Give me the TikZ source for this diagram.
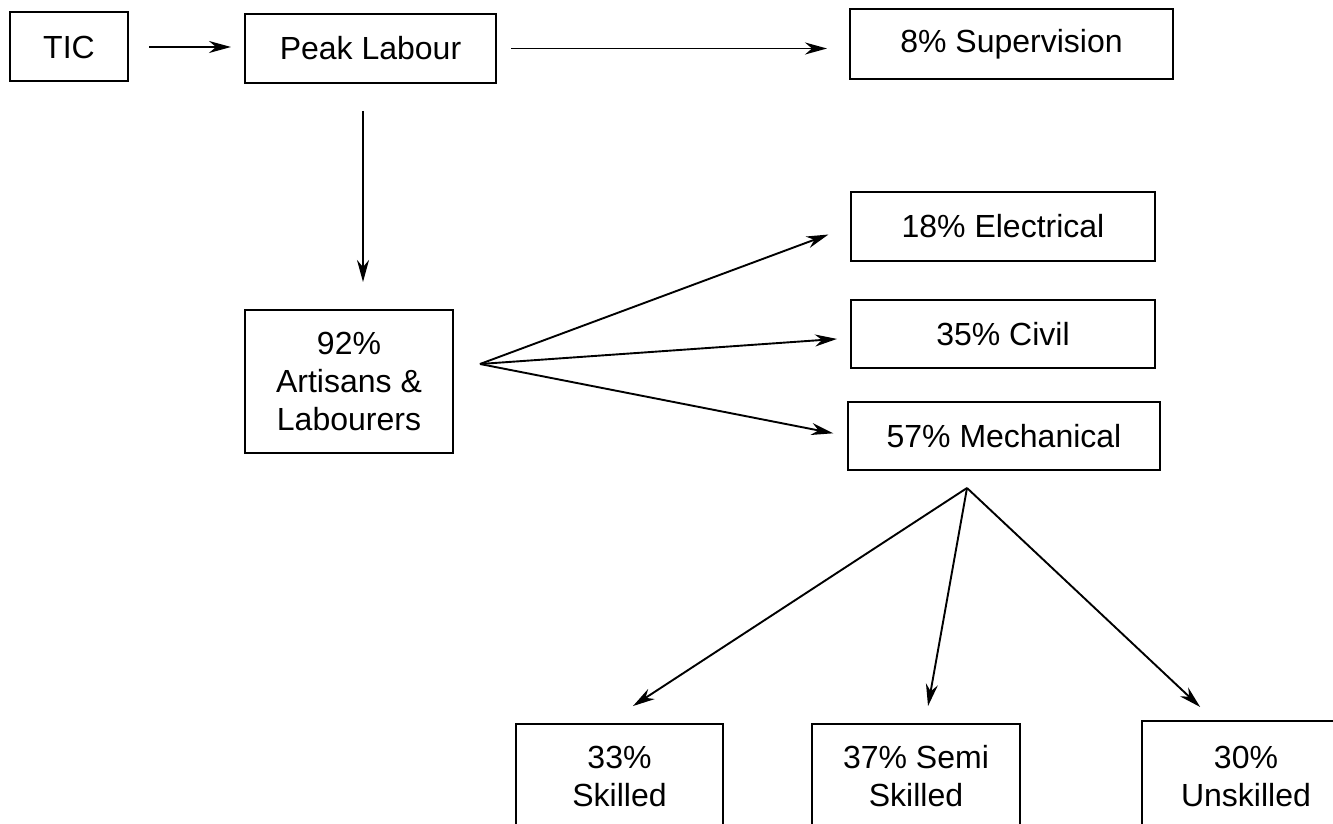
\documentclass[tikz,border=0pt]{standalone}
\usepackage{fontspec}
\setmainfont{Liberation Sans}
\usetikzlibrary{arrows.meta}
\begin{document}
\begin{tikzpicture}[x=0.5pt, y=-0.5pt,
	box/.style={draw, line width=1pt, inner sep=0pt, align=center, font=\fontsize{16}{19}\selectfont},
	arr/.style={-{Stealth[length=11pt, width=6pt, inset=3.5pt]}, line width=0.95pt}]
	  \useasboundingbox (0,0) rectangle (1333,824);
	  \clip (0,0) rectangle (1333,824);
	  % top row
	  \node[box, minimum width=59pt, minimum height=34.5pt] (tic) at (69,47) {TIC};
	  \node[box, minimum width=125.5pt, minimum height=34.5pt] (peak) at (370.5,48.5) {Peak Labour};
	  \node[box, minimum width=161.5pt, minimum height=35pt] (super) at (1011.5,44) {8\% Supervision};
	  % trades
	  \node[box, minimum width=104pt, minimum height=71.5pt] (artisans) at (349,381.5) {92\%\\Artisans \&\\Labourers};
	  \node[box, minimum width=152pt, minimum height=34.5pt] (elec) at (1003,226.5) {18\% Electrical};
	  \node[box, minimum width=152pt, minimum height=34pt] (civil) at (1003,334) {35\% Civil};
	  \node[box, minimum width=156pt, minimum height=34pt] (mech) at (1004,436) {57\% Mechanical};
	  % skill levels
	  \node[box, minimum width=103.5pt, minimum height=52pt] (skilled) at (619.5,776) {33\%\\Skilled};
	  \node[box, minimum width=104pt, minimum height=52pt] (semi) at (916,776) {37\% Semi\\Skilled};
	  \node[box, minimum width=104pt, minimum height=55pt] (unskilled) at (1246,776) {30\%\\Unskilled};
	  \coordinate (vx) at (363,0);
	  \coordinate (artfan) at (480,364);
	  \coordinate (mechfan) at (967,488);
	  \draw[arr, shorten <=10pt, shorten >=6.5pt] (tic.east) -- (tic.east -| peak.west);
	  \draw[arr, shorten <=7pt, shorten >=11pt] (peak.east) -- (peak.east -| super.west);
	  \draw[arr, shorten <=13.5pt, shorten >=13.5pt] (peak.south -| vx) -- (artisans.north -| vx);
	  \draw[arr, shorten >=11.5pt] (artfan) -- (elec.west);
	  \draw[arr, shorten >=6.5pt] (artfan) -- ([yshift=-2pt]civil.west);
	  \draw[arr, shorten >=7pt] (artfan) -- (mech.west);
	  \draw[arr, shorten >=15.5pt] (mechfan) -- ([xshift=-6.25pt]skilled.north);
	  \draw[arr, shorten >=8.6pt] (mechfan) -- ([xshift=4.5pt]semi.north);
	  \draw[arr, shorten >=9.5pt] (mechfan) -- ([xshift=-16pt]unskilled.north);
	\end{tikzpicture}
\end{document}
